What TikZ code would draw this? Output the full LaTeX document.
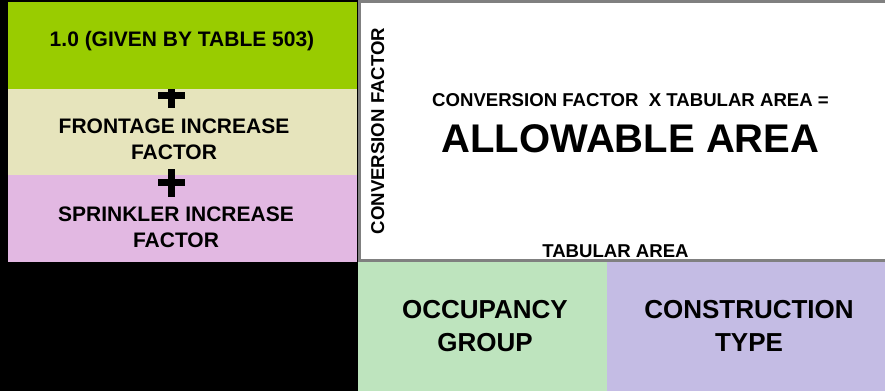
\documentclass[tikz,border=0pt]{standalone}
\usepackage{fontspec}
\setmainfont{Liberation Sans}

\definecolor{basegreen}{RGB}{153,204,0}
\definecolor{frontbeige}{RGB}{230,228,188}
\definecolor{sprinkpink}{RGB}{226,184,226}
\definecolor{occgreen}{RGB}{190,228,190}
\definecolor{conslav}{RGB}{196,188,228}
\definecolor{framegray}{RGB}{128,128,128}

\begin{document}
\begin{tikzpicture}[x=1pt, y=-1pt,
		txt/.style={inner sep=0pt, anchor=base, align=center, font=\bfseries\fontsize{21}{26}\selectfont},
		areatxt/.style={txt, font=\bfseries\fontsize{18.6}{22}\selectfont},
		keytxt/.style={txt, font=\bfseries\fontsize{26}{33}\selectfont},
		plussign/.style={line width=7pt}]
		\useasboundingbox (0, 0) rectangle (885, 391);
		\fill[black] (0, 0) rectangle (885, 391);
		% left column
		\fill[frontbeige] (8, 89) rectangle (357, 175);
		\fill[sprinkpink] (8, 175) rectangle (357, 262);
		\draw[plussign] (158, 182.5) -- (185, 182.5);
		\draw[plussign] (171.5, 169) -- (171.5, 197);
		\draw[plussign] (158, 95) -- (185, 95);
		\draw[plussign] (171.5, 81) -- (171.5, 108);
		\fill[basegreen] (8, 2) rectangle (357, 89);
		\node[txt] (base) at (182, 46) {1.0 (GIVEN BY TABLE 503)};
		\node[txt] (frontage) at (174, 159) {FRONTAGE INCREASE\\FACTOR};
		\node[txt] (sprinkler) at (176, 247) {SPRINKLER INCREASE\\FACTOR};
		% result box
		\draw[framegray, line width=3pt, fill=white] (359, 1.5) rectangle (888, 260.5);
		\node[areatxt, rotate=90] (convfactor) at (384, 131) {CONVERSION FACTOR};
		\node[areatxt] (formula) at (630.5, 106) {CONVERSION FACTOR\ \ X TABULAR AREA =};
		\node[txt, font=\bfseries\fontsize{40}{44}\selectfont] (allowable) at (630.5, 152) {ALLOWABLE AREA};
		\node[areatxt] (tabular) at (615.5, 257) {TABULAR AREA};
		% bottom row
		\fill[occgreen] (358, 262) rectangle (607, 391);
		\fill[conslav] (607, 262) rectangle (885, 391);
		\node[keytxt] (occupancy) at (485, 351) {OCCUPANCY\\GROUP};
		\node[keytxt] (construction) at (749, 351) {CONSTRUCTION\\TYPE};
	\end{tikzpicture}
\end{document}
